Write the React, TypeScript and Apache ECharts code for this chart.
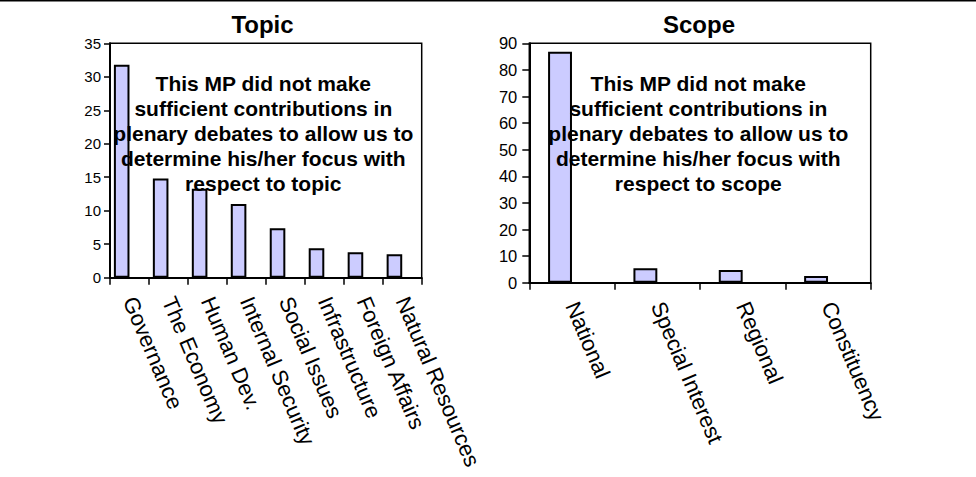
import React, { useEffect, useRef } from "react";
import * as echarts from "echarts";

const topicCategories = [
  "Governance",
  "The Economy",
  "Human Dev.",
  "Internal Security",
  "Social Issues",
  "Infrastructure",
  "Foreign Affairs",
  "Natural Resources",
];
const topicValues = [31.8, 14.8, 13.3, 11.0, 7.4, 4.4, 3.8, 3.5];

const scopeCategories = ["National", "Special Interest", "Regional", "Constituency"];
const scopeValues = [86.8, 5.4, 4.8, 2.5];

const topicTitle = "Topic";
const scopeTitle = "Scope";
const topicNote =
  "This MP did not make\nsufficient contributions in\nplenary debates to allow us to\ndetermine his/her focus with\nrespect to topic";
const scopeNote =
  "This MP did not make\nsufficient contributions in\nplenary debates to allow us to\ndetermine his/her focus with\nrespect to scope";

const FONT = "'Liberation Sans', Arial, Helvetica, sans-serif";
const BAR_FILL = "#CCCCFF";

export default function App() {
  const ref = useRef<HTMLDivElement>(null);

  useEffect(() => {
    if (!ref.current) return;
    const chart = echarts.init(ref.current, null, { renderer: "svg" });

    const yAxisCommon = (fontSize: number, margin: number, tickLen: number) => ({
      type: "value" as const,
      min: 0,
      axisLine: { show: true, lineStyle: { color: "#000", width: 2 } },
      axisTick: { show: true, inside: false, length: tickLen, lineStyle: { color: "#000", width: 1.5 } },
      axisLabel: { color: "#000", fontSize, fontFamily: FONT, margin },
      splitLine: { show: false },
    });

    const xAxisCommon = (cats: string[], rotate: number, margin: number) => ({
      type: "category" as const,
      data: cats,
      boundaryGap: true,
      axisLine: { show: true, lineStyle: { color: "#000", width: 2 } },
      axisTick: { show: true, inside: false, length: 7, alignWithLabel: false, interval: 0, lineStyle: { color: "#000", width: 1.5 } },
      axisLabel: { color: "#000", fontSize: 22, fontFamily: FONT, rotate, margin, interval: 0 },
      splitLine: { show: false },
    });

    const barStyle = { color: BAR_FILL, borderColor: "#000", borderWidth: 2 };

    chart.setOption({
      animation: false,
      backgroundColor: "#fff",
      grid: [
        { left: 110, top: 43.3, width: 311.7, height: 234.4, show: true, borderColor: "#000", borderWidth: 1.5, backgroundColor: "transparent", containLabel: false },
        { left: 529.3, top: 43.3, width: 341.4, height: 239.4, show: true, borderColor: "#000", borderWidth: 1.5, backgroundColor: "transparent", containLabel: false },
      ],
      xAxis: [
        { ...xAxisCommon(topicCategories, -67, 20), gridIndex: 0 },
        { ...xAxisCommon(scopeCategories, -67, 20), gridIndex: 1 },
      ],
      yAxis: [
        { ...yAxisCommon(15, 9, 6), gridIndex: 0, max: 35, interval: 5 },
        { ...yAxisCommon(16.5, 12, 7), gridIndex: 1, max: 90, interval: 10 },
      ],
      series: [
        { type: "bar", xAxisIndex: 0, yAxisIndex: 0, data: topicValues, itemStyle: barStyle, barGap: "0%", barCategoryGap: "20%" },
        { type: "bar", xAxisIndex: 0, yAxisIndex: 0, data: topicValues.map(() => null), itemStyle: barStyle, barGap: "0%", barCategoryGap: "20%" },
        { type: "bar", xAxisIndex: 1, yAxisIndex: 1, data: scopeValues, itemStyle: barStyle, barGap: "0%", barCategoryGap: "44%" },
        { type: "bar", xAxisIndex: 1, yAxisIndex: 1, data: scopeValues.map(() => null), itemStyle: barStyle, barGap: "0%", barCategoryGap: "44%" },
      ],
      graphic: [
        { type: "line", shape: { x1: 0, y1: 0.75, x2: 976, y2: 0.75 }, style: { stroke: "#000", lineWidth: 1.5 }, z: 100 },
        {
          type: "text", x: 262.5, y: 24.5, z: 100,
          style: { text: topicTitle, font: `bold 24px ${FONT}`, fill: "#000", textAlign: "center", textVerticalAlign: "middle" },
        },
        {
          type: "text", x: 699, y: 24.5, z: 100,
          style: { text: scopeTitle, font: `bold 24px ${FONT}`, fill: "#000", textAlign: "center", textVerticalAlign: "middle" },
        },
        {
          type: "text", x: 263.3, y: 133, z: 100,
          style: { text: topicNote, font: `bold 21px ${FONT}`, lineHeight: 25, fill: "#000", textAlign: "center", textVerticalAlign: "middle" },
        },
        {
          type: "text", x: 698.3, y: 133, z: 100,
          style: { text: scopeNote, font: `bold 21px ${FONT}`, lineHeight: 25, fill: "#000", textAlign: "center", textVerticalAlign: "middle" },
        },
      ],
    });

    return () => chart.dispose();
  }, []);

  return (
    <div
      ref={ref}
      style={{ position: "fixed", left: 0, top: 0, width: 976, height: 477, background: "#fff" }}
    />
  );
}
